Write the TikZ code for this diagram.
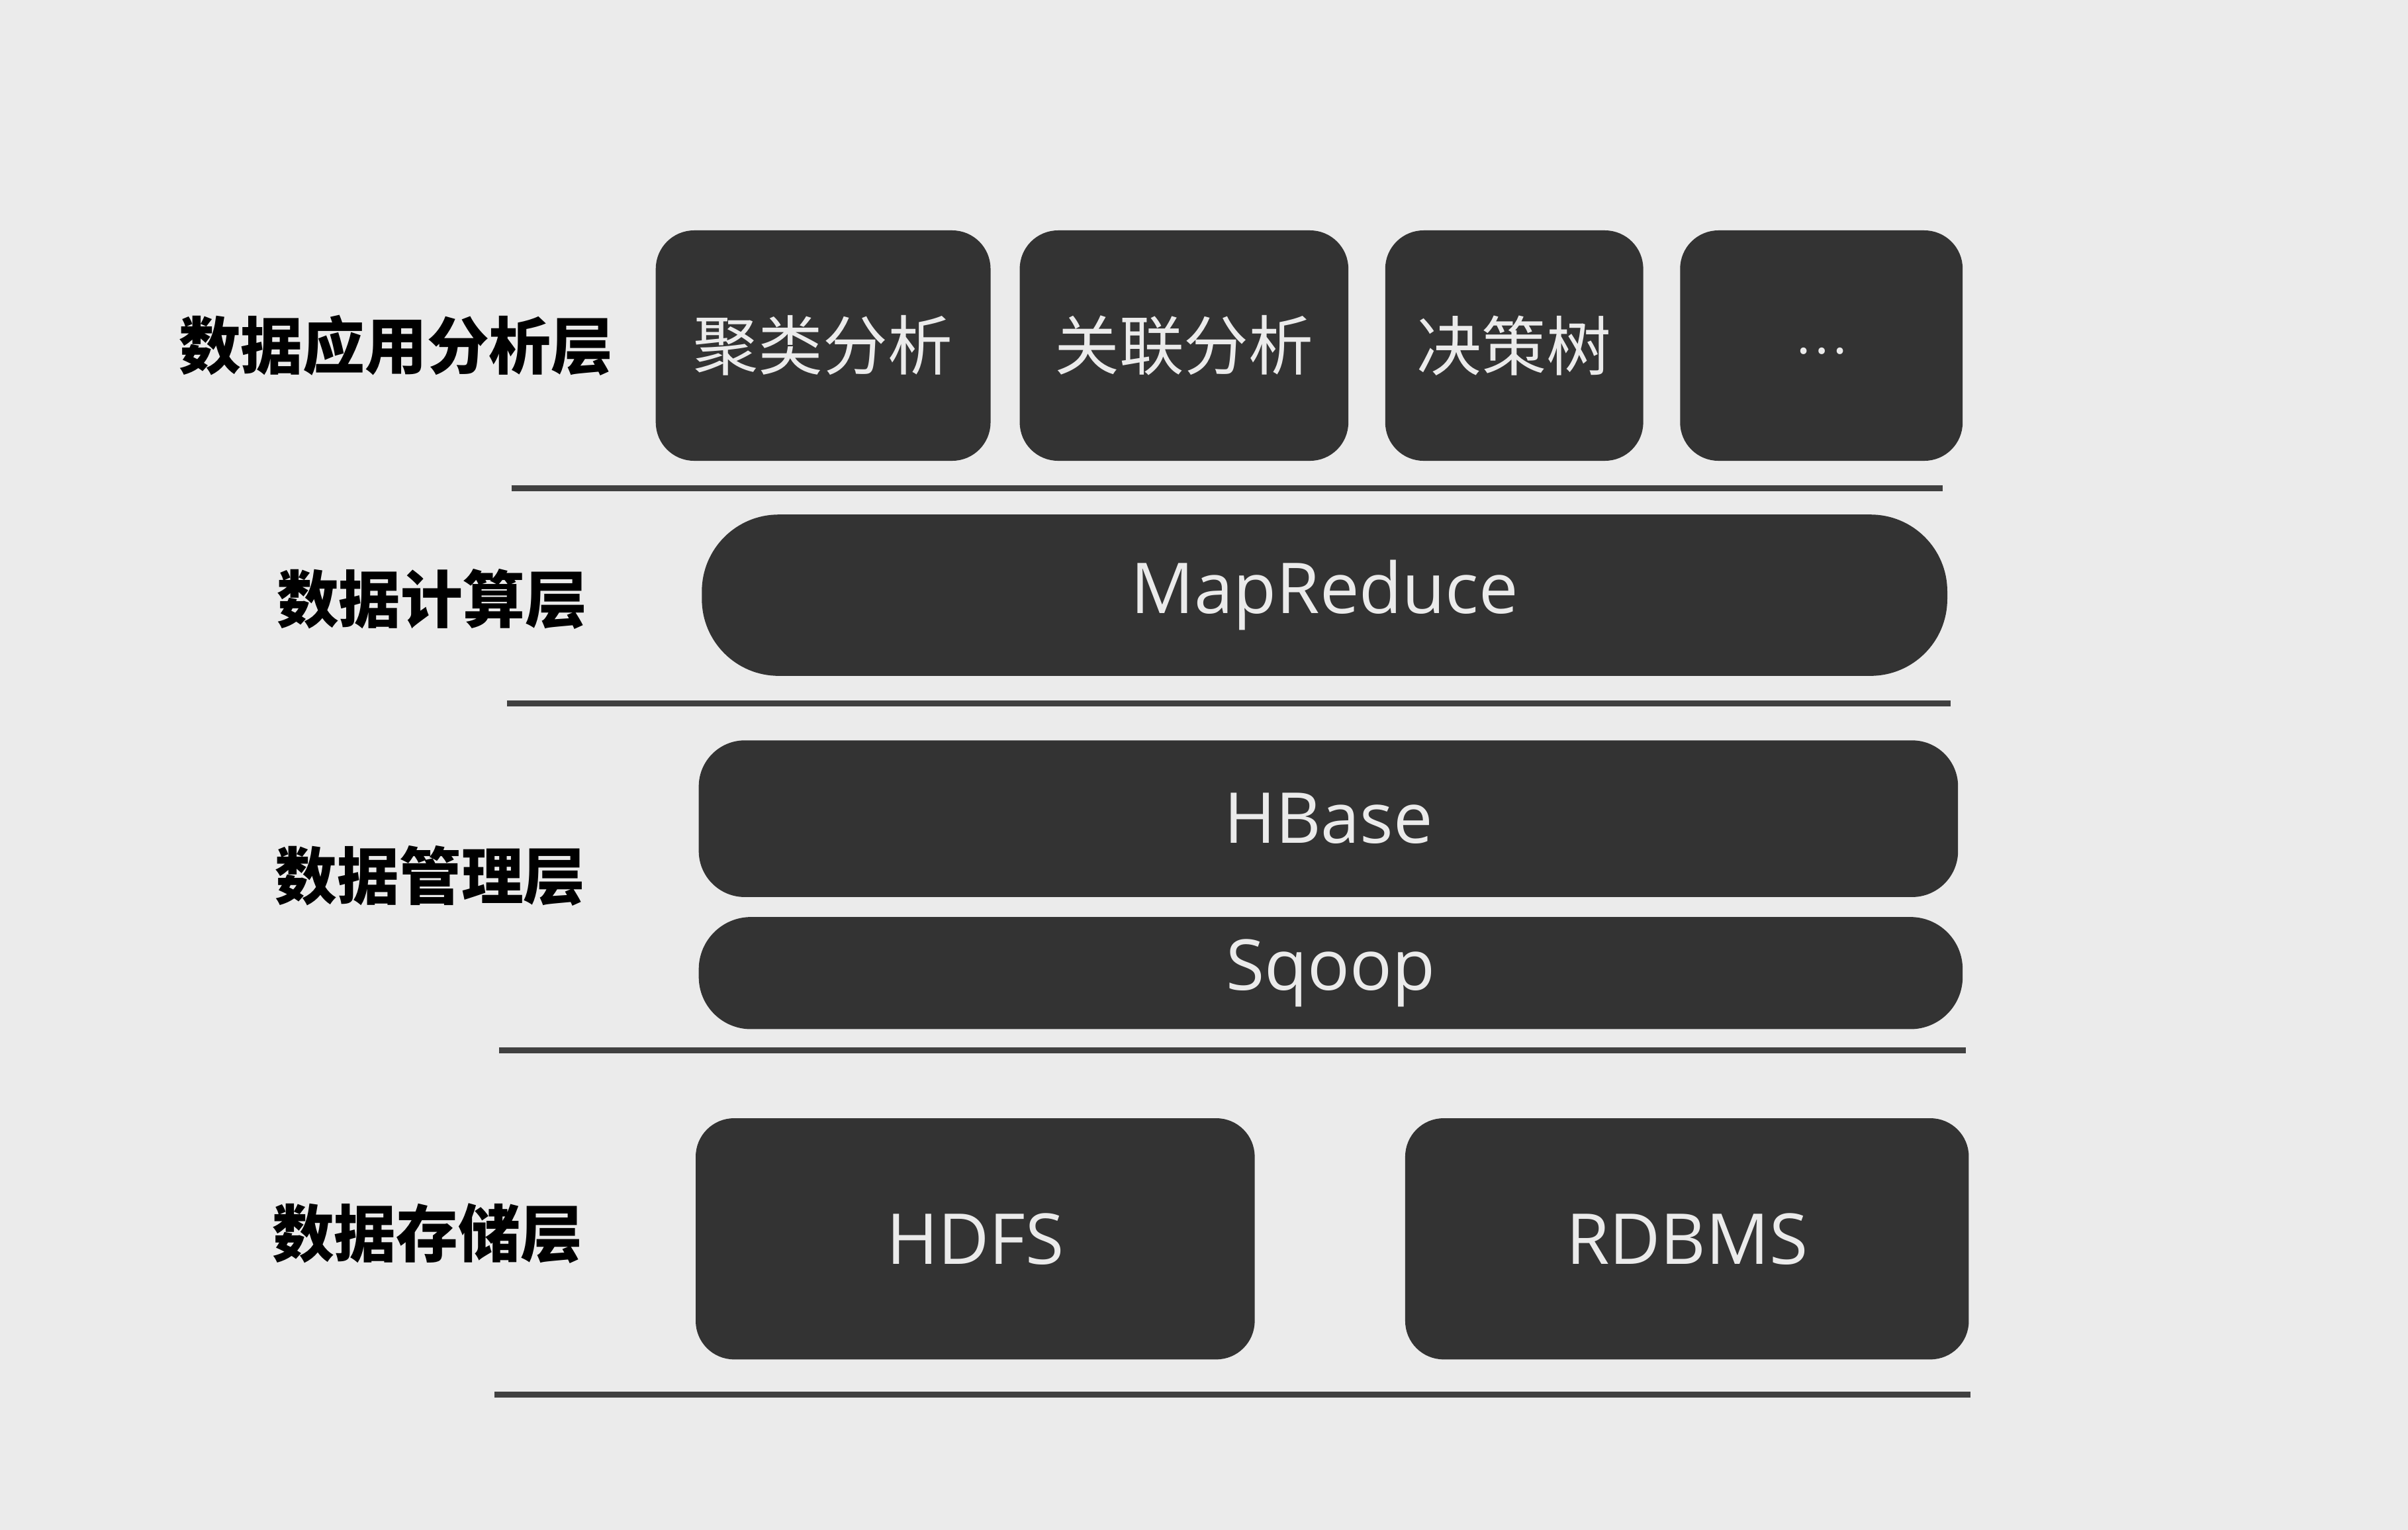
\documentclass[tikz,border=0pt]{standalone}
\usepackage{fontspec}
\setmainfont{Open Sans}
\newfontfamily\cjk{Noto Sans CJK SC}

\tikzset{
    layerbox/.style={fill=black!80, draw=none, rounded corners=0.25cm, text=white!92!black,
        font=\fontsize{13}{15}\selectfont, inner sep=0pt},
    layername/.style={anchor=east, inner sep=0pt, font=\cjk\bfseries\fontsize{11.5}{13}\selectfont},
    sepline/.style={draw=black!75, line width=1.1pt}
}

\begin{document}
\begin{tikzpicture}
            \fill[black!8] (0,0) rectangle (15.68,9.96);
            \useasboundingbox (0,0) rectangle (15.68,9.96);
            % layer names
            \node[layername] (lapp) at (4.0,7.71) {数据应用分析层};
            \node[layername] (lcomp) at (3.83,6.06) {数据计算层};
            \node[layername] (lmgmt) at (3.82,4.26) {数据管理层};
            \node[layername] (lstore) at (3.80,1.93) {数据存储层};
            % application layer
            \foreach \x/\w/\name/\text in {5.36/2.18/cluster/聚类分析, 7.71/2.14/assoc/关联分析,
            9.86/1.68/tree/决策树, 11.86/1.84/more/{\raisebox{-0.5ex}{\fontsize{9}{10}\selectfont\ldots}}}
            {
                \node[layerbox, minimum width=\w cm, minimum height=1.5cm,
                    font=\cjk\fontsize{12}{14}\selectfont] (\name) at (\x,7.71) {\text};
            }
            \draw[sepline] (3.33,6.78) coordinate (s1l) -- (12.65,6.78) coordinate (s1r);
            % computing layer
            \node[layerbox, minimum width=8.11cm, minimum height=1.05cm, rounded corners=0.5cm]
                (mapred) at (8.625,6.085) {MapReduce};
            \draw[sepline] (3.30,5.38) coordinate (s2l) -- (12.70,5.38) coordinate (s2r);
            % management layer
            \node[layerbox, minimum width=8.2cm, minimum height=1.02cm, rounded corners=0.3cm]
                (hbase) at (8.65,4.63) {HBase};
            \node[layerbox, minimum width=8.23cm, minimum height=0.73cm, rounded corners=0.34cm]
                (sqoop) at (8.665,3.625) {Sqoop};
            \draw[sepline] (3.25,3.12) coordinate (s3l) -- (12.80,3.12) coordinate (s3r);
            % storage layer
            \node[layerbox, minimum width=3.64cm, minimum height=1.57cm] (hdfs) at (6.35,1.895) {HDFS};
            \node[layerbox, minimum width=3.67cm, minimum height=1.57cm] (rdbms) at (10.985,1.895) {RDBMS};
            \draw[sepline] (3.22,0.88) coordinate (s4l) -- (12.83,0.88) coordinate (s4r);
        \end{tikzpicture}
\end{document}
